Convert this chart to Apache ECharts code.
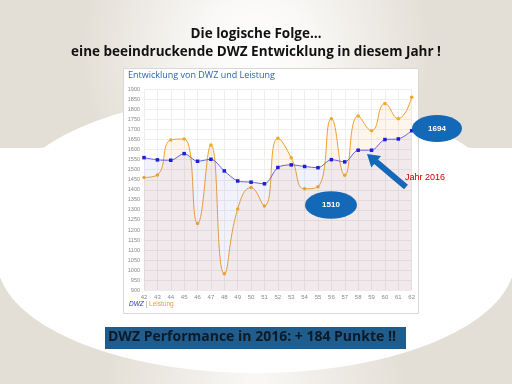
<!DOCTYPE html>
<html><head><meta charset="utf-8">
<script src="https://cdn.jsdelivr.net/npm/echarts@6/dist/echarts.min.js"></script>
<style>html,body{margin:0;padding:0;background:#e4dfd6}#c{width:512px;height:384px}</style>
</head><body><div id="c"></div>
<script>
const categories = ['42','43','44','45','46','47','48','49','50','51','52','53','54','55','56','57','58','59','60','61','62'];
const dwz = [1560,1549,1547,1580,1542,1552,1494,1444,1438,1430,1511,1524,1516,1510,1550,1539,1597,1597,1650,1653,1694];
const leistung = [1461,1474,1648,1653,1232,1623,982,1305,1411,1320,1656,1560,1405,1415,1754,1473,1767,1694,1829,1754,1860];
const yMin = 900, yMax = 1900, yStep = 50;

const chart = echarts.init(document.getElementById('c'), null, {renderer:'canvas'});

function whiteShape(){
  const pts = [];
  for (let x = 0; x <= 512; x += 4){
    const dx = x - 256;
    const t = Math.max(0, 1 - (dx/255)*(dx/255));
    pts.push([x, Math.min(148, 213 - 118*Math.sqrt(t))]);
  }
  for (let x = 512; x >= 0; x -= 4){
    const dx = x - 256;
    const t = Math.max(0, 1 - (dx/259)*(dx/259));
    pts.push([x, 260 + 113*Math.sqrt(t)]);
  }
  return pts;
}
function arrowPts(tail, tip, sw, hw, hl){
  const vx = tip[0]-tail[0], vy = tip[1]-tail[1];
  const L = Math.hypot(vx,vy), ux = vx/L, uy = vy/L, nx = -uy, ny = ux;
  const bx = tip[0]-ux*hl, by = tip[1]-uy*hl;
  return [[tail[0]+nx*sw, tail[1]+ny*sw],[bx+nx*sw, by+ny*sw],[bx+nx*hw, by+ny*hw],tip,
          [bx-nx*hw, by-ny*hw],[bx-nx*sw, by-ny*sw],[tail[0]-nx*sw, tail[1]-ny*sw]];
}
const beige = '#e4dfd6';
const graphics = [
  {type:'rect', shape:{x:0,y:0,width:512,height:384}, style:{fill:beige}, z:-20},
  {type:'rect', shape:{x:0,y:0,width:512,height:160}, style:{fill:new echarts.graphic.RadialGradient(256,50,175,[{offset:0,color:'rgba(255,255,255,1)'},{offset:0.3,color:'rgba(255,255,255,0.8)'},{offset:1,color:'rgba(255,255,255,0)'}],true)}, z:-19},
  {type:'rect', shape:{x:0,y:300,width:512,height:84}, style:{fill:new echarts.graphic.RadialGradient(256,384,150,[{offset:0,color:'rgba(255,255,255,0.8)'},{offset:1,color:'rgba(255,255,255,0)'}],true)}, z:-19},
  {type:'polygon', shape:{points:whiteShape()}, style:{fill:'#ffffff'}, z:-18},
  {type:'rect', shape:{x:123.5,y:68.5,width:295,height:245}, style:{fill:'#ffffff', stroke:'#d8d8d8', lineWidth:1}, z:-10},
  {type:'text', left:'center', top:27, style:{text:'Die logische Folge…', font:'bold 13.5px "Open Sans"', fill:'#111'}, z:10},
  {type:'text', left:'center', top:45, style:{text:'eine beeindruckende DWZ Entwicklung in diesem Jahr !', font:'bold 13.5px "Open Sans"', fill:'#111'}, z:10},
  {type:'text', x:128, y:71, style:{text:'Entwicklung von DWZ und Leistung', font:'9px "Open Sans"', fill:'#2f63ad'}, z:10},
  {type:'text', x:129, y:301, style:{text:'{a|DWZ}{b| | }{c|Leistung}', rich:{a:{fill:'#2c2ccc',font:'italic 6.5px "Liberation Sans"'},b:{fill:'#999',font:'6.5px "Liberation Sans"'},c:{fill:'#f0a030',font:'6.5px "Liberation Sans"'}}}, z:10},
  {type:'rect', shape:{x:105,y:327,width:301,height:22}, style:{fill:'#215d8c'}, z:10},
  {type:'text', x:108, y:330, style:{text:'DWZ Performance in 2016: + 184 Punkte !!', font:'bold 14px "Open Sans"', fill:'#0c1a28'}, z:11},
  {type:'circle', x:437, y:128.5, scaleX:1.85, scaleY:1, shape:{cx:0,cy:0,r:13.5}, style:{fill:'#1468b8'}, z:20},
  {type:'text', x:437, y:129, style:{text:'1694', font:'bold 8px "Liberation Sans"', fill:'#fff', align:'center', verticalAlign:'middle'}, z:21},
  {type:'circle', x:331, y:205, scaleX:1.9, scaleY:1, shape:{cx:0,cy:0,r:13.7}, style:{fill:'#1468b8'}, z:20},
  {type:'text', x:331, y:205, style:{text:'1510', font:'bold 8px "Liberation Sans"', fill:'#fff', align:'center', verticalAlign:'middle'}, z:21},
  {type:'polygon', shape:{points:arrowPts([406,187],[367,154],3,7.5,12)}, style:{fill:'#1468b8'}, z:20},
  {type:'text', x:405, y:173, style:{text:'Jahr 2016', font:'9px "Liberation Sans"', fill:'#c00000'}, z:21}
];

chart.setOption({
  animation:false,
  graphic: graphics,
  grid:{left:144, right:100.3, top:89.3, bottom:93.7},
  xAxis:{type:'category', data:categories, boundaryGap:false,
    axisLine:{show:false}, axisTick:{show:false},
    axisLabel:{fontSize:6, color:'#888', margin:4, fontFamily:'Liberation Sans'},
    splitLine:{show:true, lineStyle:{color:'#eeeeee', width:1}}},
  yAxis:{type:'value', min:yMin, max:yMax, interval:yStep,
    axisLine:{show:false}, axisTick:{show:false},
    axisLabel:{fontSize:5.5, color:'#888', margin:4, fontFamily:'Liberation Sans', formatter:v => String(v)},
    splitLine:{show:true, lineStyle:{color:'#eeeeee', width:1}}},
  series:[
    {name:'Leistung', type:'line', data:leistung, smooth:0.5, symbol:'circle', symbolSize:3.5,
      lineStyle:{color:'#f0a030', width:1}, itemStyle:{color:'#f5a623'},
      areaStyle:{color:'rgba(245,160,60,0.14)', origin:'start'}, z:3},
    {name:'DWZ', type:'line', data:dwz, smooth:0.3, symbol:'rect', symbolSize:3.5,
      lineStyle:{color:'#6a5ce0', width:1}, itemStyle:{color:'#1e1ed8'},
      areaStyle:{color:'rgba(110,110,230,0.13)', origin:'start'}, z:4}
  ]
});
</script></body></html>
